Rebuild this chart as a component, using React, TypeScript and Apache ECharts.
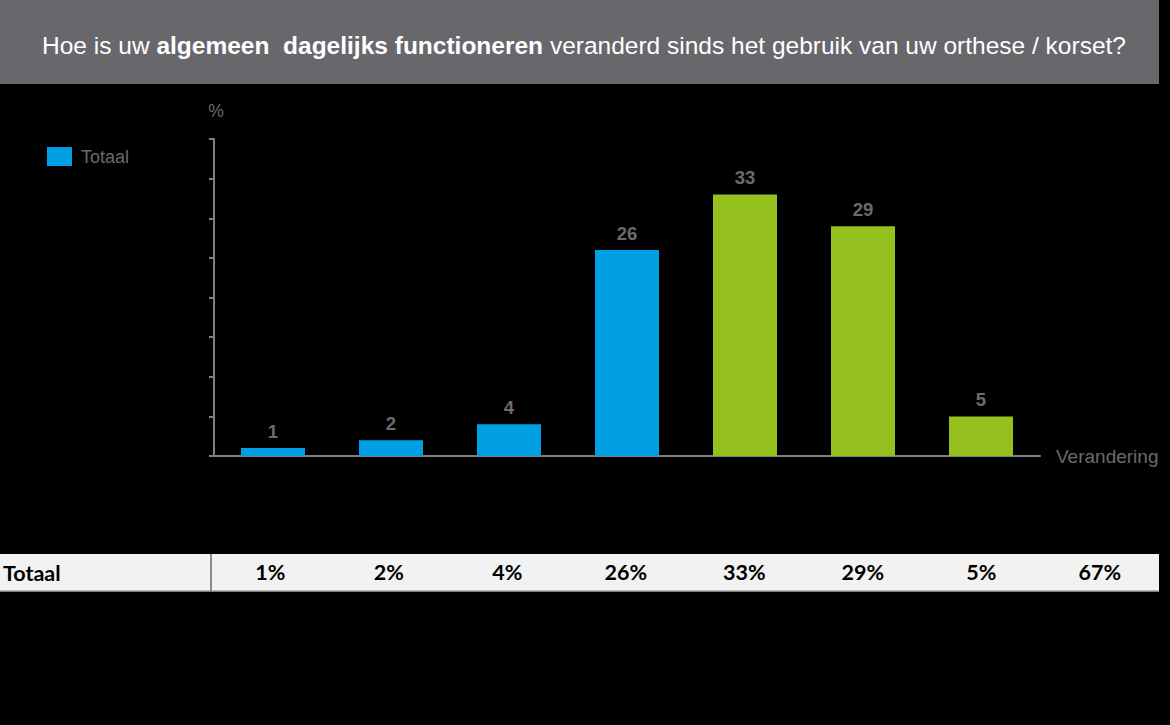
import React, { useEffect, useRef } from "react";
import * as echarts from "echarts";

const categories = ["c1", "c2", "c3", "c4", "c5", "c6", "c7"];
const values = [1, 2, 4, 26, 33, 29, 5];
const barColors = ["#009FE3", "#009FE3", "#009FE3", "#009FE3", "#95C11F", "#95C11F", "#95C11F"];
const tableValues = ["1%", "2%", "4%", "26%", "33%", "29%", "5%", "67%"];
const seriesName = "Totaal";
const tableRowLabel = "Totaal";
const yTicks = { min: 0, max: 40, interval: 5 };

const GRAY = "#6b6b6b";
const AXIS = "#808080";
const ARIAL = "Liberation Sans, Arial, sans-serif";

export default function App() {
  const ref = useRef<HTMLDivElement>(null);
  useEffect(() => {
    if (!ref.current) return;
    const chart = echarts.init(ref.current, null, { renderer: "svg" });
    chart.setOption({
      animation: false,
      backgroundColor: "#000000",
      title: {
        text: "{n|Hoe is uw }{b|algemeen  dagelijks functioneren}{n| veranderd sinds het gebruik van uw orthese / korset?}",
        left: 579,
        textAlign: "center",
        top: 28,
        textStyle: {
          fontWeight: "normal",
          color: "#ffffff",
          fontSize: 24.5,
          fontFamily: ARIAL,
          rich: {
            n: { color: "#ffffff", fontSize: 24.5, fontWeight: "normal", fontFamily: ARIAL },
            b: { color: "#ffffff", fontSize: 24.5, fontWeight: "bold", fontFamily: ARIAL },
          },
        },
      },
      legend: {
        data: [seriesName],
        left: 42,
        top: 142,
        itemWidth: 25,
        itemHeight: 19,
        icon: "rect",
        textStyle: { color: GRAY, fontSize: 18, fontFamily: ARIAL, padding: [0, 0, 0, 4] },
      },
      graphic: [
        { type: "rect", z: -10, shape: { x: 0, y: 0, width: 1159, height: 84 }, style: { fill: "#67676c" } },
        { type: "rect", z: -10, shape: { x: 0, y: 554, width: 1159, height: 37 }, style: { fill: "#f2f2f2" } },
        { type: "line", shape: { x1: 0, y1: 591, x2: 1159, y2: 591 }, style: { stroke: "#a6a6a6", lineWidth: 1.5 } },
        { type: "line", shape: { x1: 211, y1: 554, x2: 211, y2: 591 }, style: { stroke: "#6b6b6b", lineWidth: 1.5 } },
        {
          type: "text",
          x: 3,
          y: 573,
          style: {
            text: tableRowLabel,
            fill: "#000000",
            fontSize: 21.5,
            fontWeight: "bold",
            fontFamily: "Lato, sans-serif",
            verticalAlign: "middle",
          },
        },
      ],
      grid: [
        { left: 214, right: 130, top: 139, bottom: 269 },
        { left: 211, width: 948, top: 554, height: 37 },
      ],
      xAxis: [
        {
          type: "category",
          gridIndex: 0,
          data: categories,
          axisLine: { show: true, lineStyle: { color: AXIS, width: 2 } },
          axisTick: { show: false },
          axisLabel: { show: false },
          name: "Verandering",
          nameLocation: "end",
          nameGap: 16,
          nameTextStyle: { color: GRAY, fontSize: 19, fontFamily: ARIAL },
        },
        {
          type: "category",
          gridIndex: 1,
          data: tableValues,
          position: "bottom",
          axisLine: { show: false },
          axisTick: { show: false },
          axisLabel: {
            inside: true,
            margin: 8,
            color: "#000000",
            fontSize: 21.5,
            fontWeight: "bold",
            fontFamily: "Lato, sans-serif",
          },
        },
      ],
      yAxis: [
        {
          type: "value",
          gridIndex: 0,
          min: yTicks.min,
          max: yTicks.max,
          interval: yTicks.interval,
          axisLine: { show: true, lineStyle: { color: AXIS, width: 2 } },
          axisTick: { show: true, length: 5, lineStyle: { color: AXIS, width: 2 } },
          axisLabel: { show: false },
          splitLine: { show: false },
          name: "%",
          nameLocation: "end",
          nameGap: 19,
          nameTextStyle: { color: GRAY, fontSize: 17.5, align: "center", padding: [0, 0, 0, 4], fontFamily: ARIAL },
        },
        {
          type: "value",
          gridIndex: 1,
          show: false,
        },
      ],
      series: [
        {
          name: seriesName,
          type: "bar",
          xAxisIndex: 0,
          yAxisIndex: 0,
          barWidth: 64,
          itemStyle: { color: "#009FE3" },
          data: values.map((v, i) => ({ value: v, itemStyle: { color: barColors[i] } })),
          label: {
            show: true,
            position: "top",
            distance: 7,
            color: GRAY,
            fontSize: 18.5,
            fontWeight: "bold",
            fontFamily: ARIAL,
          },
        },
      ],
    });
    return () => chart.dispose();
  }, []);
  return (
    <div
      ref={ref}
      style={{ position: "fixed", left: 0, top: 0, width: 1170, height: 725, background: "#000" }}
    />
  );
}
